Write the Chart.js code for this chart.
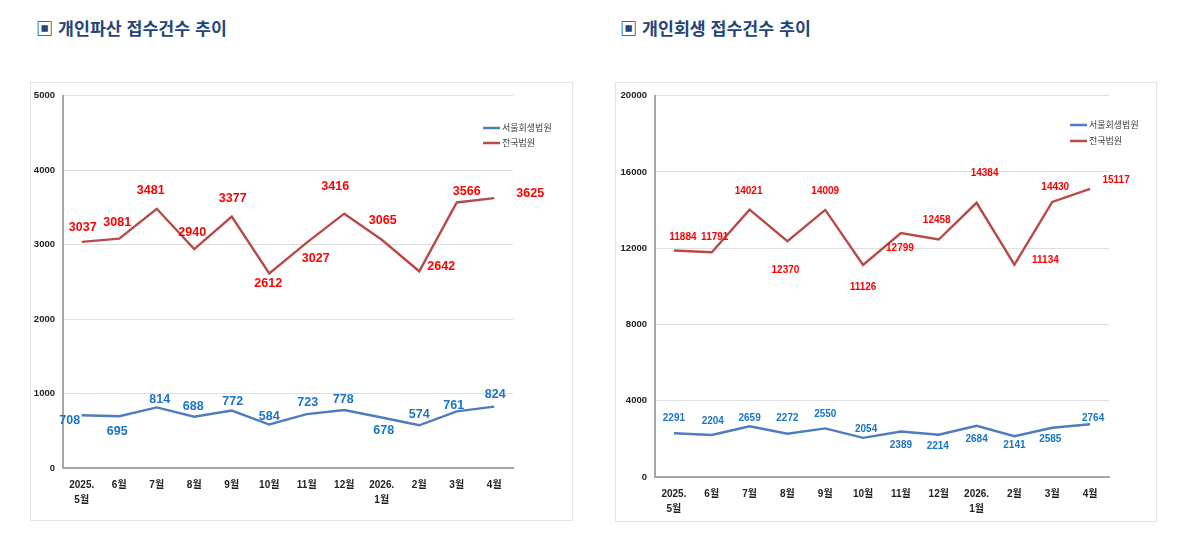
<!DOCTYPE html>
<html lang="ko">
<head>
<meta charset="utf-8">
<script src="https://cdn.jsdelivr.net/npm/chart.js@4/dist/chart.umd.min.js"></script>
<style>
  html, body { margin: 0; padding: 0; background: #fff; }
  body { width: 1200px; height: 546px; position: relative; overflow: hidden; font-family: 'Noto Sans CJK KR', 'Noto Sans', sans-serif; }
  .title { position: absolute; top: 15px; font-size: 17.3px; line-height: 26px; font-weight: bold; color: #24457a; white-space: nowrap; }
  .box { position: absolute; border: 1px solid #e4e4e4; box-sizing: border-box; }
  canvas { position: absolute; }
</style>
</head>
<body>
<div class="title" style="left:36px">▣ 개인파산 접수건수 추이</div>
<div class="title" style="left:620px">▣ 개인회생 접수건수 추이</div>
<div class="box" style="left:30px;top:82px;width:543px;height:439px"></div>
<div class="box" style="left:615px;top:82px;width:542px;height:440px"></div>
<canvas id="chart-bankruptcy" width="543" height="439" style="left:30px;top:82px"></canvas>
<canvas id="chart-rehab" width="542" height="440" style="left:615px;top:82px"></canvas>
<script>
// 데이터
const months = [['2025.', '5월'], '6월', '7월', '8월', '9월', '10월', '11월', '12월', ['2026.', '1월'], '2월', '3월', '4월'];
const seriesNames = ['서울회생법원', '전국법원'];

const bankruptcySeoul = [708, 695, 814, 688, 772, 584, 723, 778, 678, 574, 761, 824];
const bankruptcyNational = [3037, 3081, 3481, 2940, 3377, 2612, 3027, 3416, 3065, 2642, 3566, 3625];

const rehabSeoul = [2291, 2204, 2659, 2272, 2550, 2054, 2389, 2214, 2684, 2141, 2585, 2764];
const rehabNational = [11884, 11791, 14021, 12370, 14009, 11126, 12799, 12458, 14384, 11134, 14430, 15117];

const bankruptcyAxis = { max: 5000, step: 1000 };
const rehabAxis = { max: 20000, step: 4000 };

// 라벨 위치 (점 기준 dx, dy)
const labelOffsets = {
    bankruptcySeoul: [[-12, 5], [-2, 15], [3, -8], [-1, -10], [1, -9], [0, -8], [1, -12], [-1, -11], [2, 13], [0, -11], [-3, -6], [1, -12]],
    bankruptcyNational: [[1, -14], [-2, -16], [-6, -18], [-2, -17], [1, -18], [-1, 10], [9, 16], [-9, -27], [1, -19], [22, -5], [10, -11], [36, -5]],
    rehabSeoul: [[0, -15], [1, -14], [0, -8], [0, -15], [0, -14], [3, -9], [0, 14], [-1, 11], [0, 13], [0, 9], [-2, 12], [3, -6]],
    rehabNational: [[9, -13], [3, -15], [-1, -18], [-2, 29], [0, -19], [0, 22], [-1, 15], [-2, -19], [8, -30], [31, -4], [3, -15], [26, -9]]
};

const lineColors = ['#4f7bbf', '#b94a48'];
const labelColors = ['#1a74c8', '#ff0000'];

const dataLabels = {
    id: 'dataLabels',
    afterDatasetsDraw(chart, args, opts) {
        const ctx = chart.ctx;
        ctx.save();
        ctx.font = opts.font;
        ctx.textAlign = 'center';
        ctx.textBaseline = 'middle';
        chart.data.datasets.forEach((ds, di) => {
            const meta = chart.getDatasetMeta(di);
            ctx.fillStyle = labelColors[di];
            meta.data.forEach((pt, i) => {
                const off = ds.labelOffsets[i];
                ctx.fillText(ds.data[i], pt.x + off[0], pt.y + off[1]);
            });
        });
        ctx.restore();
    }
};

const sideLegend = {
    id: 'sideLegend',
    afterDraw(chart, args, opts) {
        const ctx = chart.ctx;
        ctx.save();
        ctx.font = '9px "Noto Sans CJK KR", sans-serif';
        ctx.textBaseline = 'middle';
        ctx.textAlign = 'left';
        chart.data.datasets.forEach((ds, di) => {
            const y = opts.y + di * opts.gap;
            ctx.strokeStyle = ds.borderColor;
            ctx.lineWidth = 2.5;
            ctx.beginPath();
            ctx.moveTo(opts.x, y);
            ctx.lineTo(opts.x + 17, y);
            ctx.stroke();
            ctx.fillStyle = '#404040';
            ctx.fillText(ds.label, opts.x + 19, y);
        });
        ctx.restore();
    }
};

function makeChart(id, seoul, national, offsSeoul, offsNational, axis, cfg) {
    return new Chart(document.getElementById(id).getContext('2d'), {
        type: 'line',
        data: {
            labels: months,
            datasets: [
                { label: seriesNames[0], data: seoul, labelOffsets: offsSeoul, borderColor: lineColors[0], borderWidth: 2.4, pointRadius: 0, tension: 0, fill: false },
                { label: seriesNames[1], data: national, labelOffsets: offsNational, borderColor: lineColors[1], borderWidth: 2.4, pointRadius: 0, tension: 0, fill: false }
            ]
        },
        options: {
            responsive: false,
            animation: false,
            layout: { padding: { top: cfg.top, right: cfg.right, left: 0, bottom: 0 } },
            plugins: {
                legend: { display: false },
                tooltip: { enabled: false },
                dataLabels: { font: cfg.labelFont },
                sideLegend: { x: cfg.legendX, y: cfg.legendY, gap: cfg.legendGap }
            },
            scales: {
                x: {
                    offset: true,
                    grid: { display: false, drawTicks: false },
                    border: { display: true, color: '#a6a6a6', width: 2 },
                    ticks: { color: '#222', font: { family: "'Liberation Sans', 'Noto Sans CJK KR'", size: 10, weight: 'bold', lineHeight: 1.5 }, padding: cfg.xPad, maxRotation: 0, autoSkip: false },
                    afterFit: s => { s.height = cfg.xHeight; }
                },
                y: {
                    min: 0, max: axis.max,
                    grid: { color: '#dedede', lineWidth: 1, drawTicks: false },
                    border: { display: true, color: '#a6a6a6', width: 2 },
                    ticks: { stepSize: axis.step, color: '#222', font: { family: "'Liberation Sans'", size: 9.5, weight: 'bold' }, padding: 8, callback: v => String(v) },
                    afterFit: s => { s.width = cfg.yWidth; }
                }
            }
        },
        plugins: [dataLabels, sideLegend]
    });
}

makeChart('chart-bankruptcy', bankruptcySeoul, bankruptcyNational,
    labelOffsets.bankruptcySeoul, labelOffsets.bankruptcyNational, bankruptcyAxis,
    { top: 13, right: 60, yWidth: 33, xHeight: 53, xPad: 10, labelFont: 'bold 12.5px "Liberation Sans", sans-serif', legendX: 453, legendY: 46, legendGap: 15 });

makeChart('chart-rehab', rehabSeoul, rehabNational,
    labelOffsets.rehabSeoul, labelOffsets.rehabNational, rehabAxis,
    { top: 11, right: 48, yWidth: 40, xHeight: 45, xPad: 10, labelFont: 'bold 10px "Liberation Sans", sans-serif', legendX: 455, legendY: 43, legendGap: 16 });
</script>
</body>
</html>
